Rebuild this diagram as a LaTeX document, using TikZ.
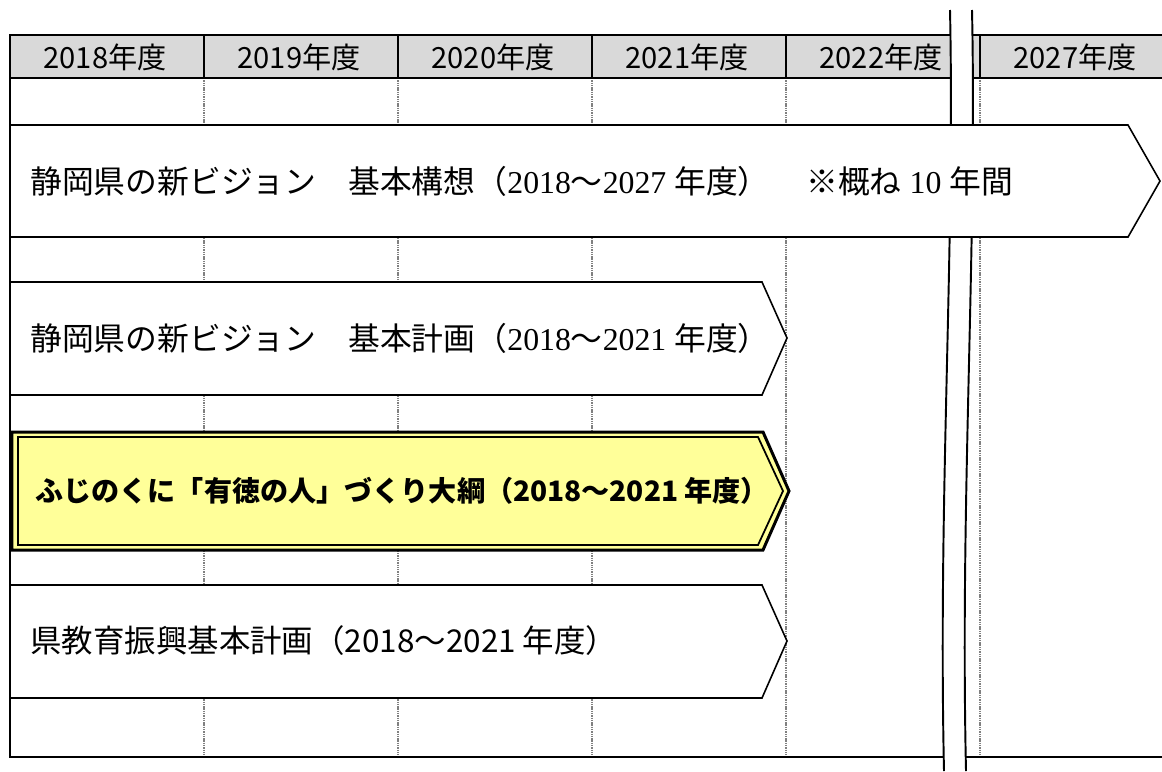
\documentclass[tikz,border=0pt]{standalone}
\usepackage{fontspec}
\setmainfont{Liberation Serif}
\newfontfamily\jpfont{Noto Sans CJK JP}
\definecolor{headgrey}{HTML}{D9D9D9}
\definecolor{outlineyellow}{HTML}{FFFF99}
\tikzset{
  gridline/.style={gray,line width=0.6pt,dash pattern=on 0.8pt off 0.5pt},
  tableline/.style={black,line width=1.1pt},
  planbox/.style={draw=black,fill=white,line width=0.9pt,line join=miter},
  yearlabel/.style={font=\jpfont\fontsize{16.6}{19}\selectfont},
  planlabel/.style={anchor=west,inner sep=0pt,font=\fontsize{18.1}{21}\selectfont}
}
\begin{document}
\begin{tikzpicture}[x=0.02cm,y=-0.02cm]
  \useasboundingbox (0,0) rectangle (1162,771);
  % header and grid
  \fill[headgrey] (10,35) rectangle (1162,78);
  \foreach \i/\yr in {0/2018,1/2019,2/2020,3/2021,4/2022,5/2027} {
    \node[yearlabel] (head\yr) at (105+194*\i,57) {\yr 年度};
  }
  \foreach \x in {204,398,592,786,980} {
    \draw[gridline] (\x,78) -- (\x,757);
    \draw[tableline] (\x,35) -- (\x,78);
  }
  \draw[tableline] (1162,35) -- (10,35) -- (10,757) -- (1162,757);
  \draw[tableline] (10,78) -- (1162,78);
  % break in the time axis
  \fill[white] (950,10) .. controls (955,250) and (938,500) .. (944,771)
    -- (966,771) .. controls (960,500) and (977,250) .. (972,10) -- cycle;
  \draw[line width=1.1pt] (950,10) .. controls (955,250) and (938,500) .. (944,771);
  \draw[line width=1.1pt] (972,10) .. controls (977,250) and (960,500) .. (966,771);
  % plans
  \draw[planbox] (10,125) -- (1128,125) -- (1160,181) -- (1128,237) -- (10,237) -- cycle;
  \node[planlabel] (vision) at (30,181)
    {{\jpfont 静岡県の新ビジョン　基本構想（}2018{\jpfont ～}2027 {\jpfont 年度）}};
  \node[planlabel] (visionnote) at (806,181) {{\jpfont ※概ね} 10 {\jpfont 年間}};
  \draw[planbox] (10,282) -- (762,282) -- (787,338) -- (762,395) -- (10,395) -- cycle;
  \node[planlabel] (basic) at (30,338)
    {{\jpfont 静岡県の新ビジョン　基本計画（}2018{\jpfont ～}2021 {\jpfont 年度）}};
  \draw[planbox,fill=outlineyellow,line width=1.7pt]
    (12,432) -- (763,432) -- (789,491) -- (763,550) -- (12,550) -- cycle;
  \draw[line width=1pt] (18,437) -- (758,437) -- (783,491) -- (758,545) -- (18,545) -- cycle;
  \node[planlabel,font=\jpfont\bfseries\fontsize{16}{19}\selectfont] (outline) at (35,491)
    {ふじのくに「有徳の人」づくり大綱（2018～2021 年度）};
  \draw[planbox] (10,585) -- (762,585) -- (787,641) -- (762,698) -- (10,698) -- cycle;
  \node[planlabel,font=\jpfont\fontsize{17.9}{21}\selectfont] (education) at (30,641)
    {県教育振興基本計画（2018～2021 年度）};
\end{tikzpicture}
\end{document}
